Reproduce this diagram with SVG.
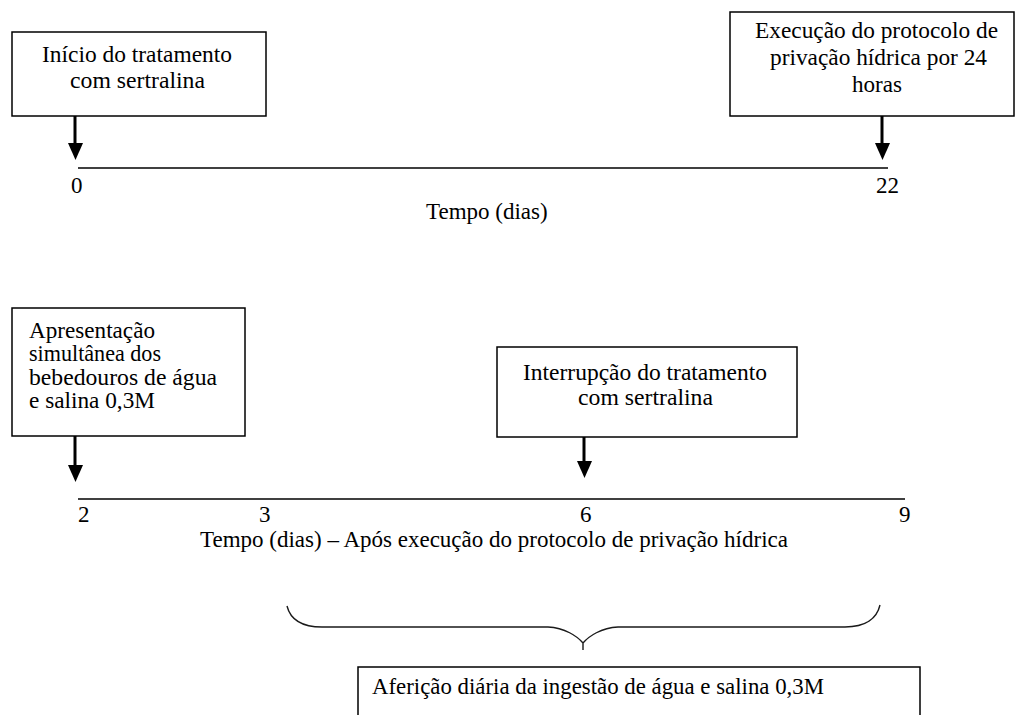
<svg xmlns="http://www.w3.org/2000/svg" width="1016" height="715" viewBox="0 0 1016 715">
  <style>
    .box { fill: #ffffff; stroke: #000000; stroke-width: 1.5; }
    .axis { fill: none; stroke: #000000; stroke-width: 1.5; }
    .shaft { fill: none; stroke: #000000; stroke-width: 3; }
    .head { fill: #000000; }
    .brace { fill: none; stroke: #1a1a1a; stroke-width: 1.4; }
    text { font-family: "Liberation Serif", "Times New Roman", serif; font-size: 23px; fill: #000000; }
  </style>
  <rect width="1016" height="715" fill="#ffffff"/>

  <!-- Timeline 1: treatment period -->
  <g id="box-inicio">
    <rect class="box" x="12" y="32" width="254" height="84"/>
    <text x="42" y="62" textLength="190" lengthAdjust="spacingAndGlyphs">Início do tratamento</text>
    <text x="70" y="88" textLength="135" lengthAdjust="spacingAndGlyphs">com sertralina</text>
  </g>
  <g id="box-execucao">
    <rect class="box" x="730" y="12" width="284" height="104"/>
    <text x="755" y="38" textLength="243" lengthAdjust="spacingAndGlyphs">Execução do protocolo de</text>
    <text x="770" y="65" textLength="217" lengthAdjust="spacingAndGlyphs">privação hídrica por 24</text>
    <text x="852" y="92" textLength="50" lengthAdjust="spacingAndGlyphs">horas</text>
  </g>
  <g id="axis-1">
    <line class="axis" x1="78" y1="168" x2="888" y2="168"/>
    <text x="71" y="193">0</text>
    <text x="876" y="193">22</text>
    <text x="426" y="219">Tempo (dias)</text>
  </g>

  <!-- Timeline 2: after water deprivation -->
  <g id="box-apresentacao">
    <rect class="box" x="12" y="308" width="233" height="128"/>
    <text x="29" y="338" textLength="126" lengthAdjust="spacingAndGlyphs">Apresentação</text>
    <text x="29" y="361" textLength="132" lengthAdjust="spacingAndGlyphs">simultânea dos</text>
    <text x="29" y="385" textLength="188" lengthAdjust="spacingAndGlyphs">bebedouros de água</text>
    <text x="29" y="408" textLength="126" lengthAdjust="spacingAndGlyphs">e salina 0,3M</text>
  </g>
  <g id="box-interrupcao">
    <rect class="box" x="497" y="347" width="300" height="90"/>
    <text x="523" y="380" textLength="244" lengthAdjust="spacingAndGlyphs">Interrupção do tratamento</text>
    <text x="578" y="405" textLength="135" lengthAdjust="spacingAndGlyphs">com sertralina</text>
  </g>
  <g id="axis-2">
    <line class="axis" x1="78" y1="499" x2="905" y2="499"/>
    <text x="78" y="522">2</text>
    <text x="259" y="522">3</text>
    <text x="580" y="522">6</text>
    <text x="899" y="522">9</text>
    <text x="200" y="547" textLength="588" lengthAdjust="spacingAndGlyphs">Tempo (dias) – Após execução do protocolo de privação hídrica</text>
  </g>
  <g id="box-afericao">
    <rect class="box" x="358" y="667" width="562" height="60"/>
    <text x="372" y="694" textLength="452" lengthAdjust="spacingAndGlyphs">Aferição diária da ingestão de água e salina 0,3M</text>
  </g>

  <!-- Connectors -->
  <g id="connectors">
    <line class="shaft" x1="75" y1="116" x2="75" y2="145"/>
    <polygon class="head" points="68,143 83,143 75.5,160"/>
    <line class="shaft" x1="882" y1="116" x2="882" y2="145"/>
    <polygon class="head" points="875,143 890,143 882.5,160"/>
    <line class="shaft" x1="75" y1="436" x2="75" y2="467"/>
    <polygon class="head" points="68,465 83,465 75.5,482"/>
    <line class="shaft" x1="584" y1="437" x2="584" y2="463"/>
    <polygon class="head" points="577,461 592,461 584.5,478"/>
    <path class="brace" d="M287,606 C290,618 300,627 322,627 L548,627 C565,628 577,636 583,643 L583,650 M583,643 C589,636 601,628 618,627 L845,627 C866,627 877,618 880,605"/>
  </g>
</svg>
